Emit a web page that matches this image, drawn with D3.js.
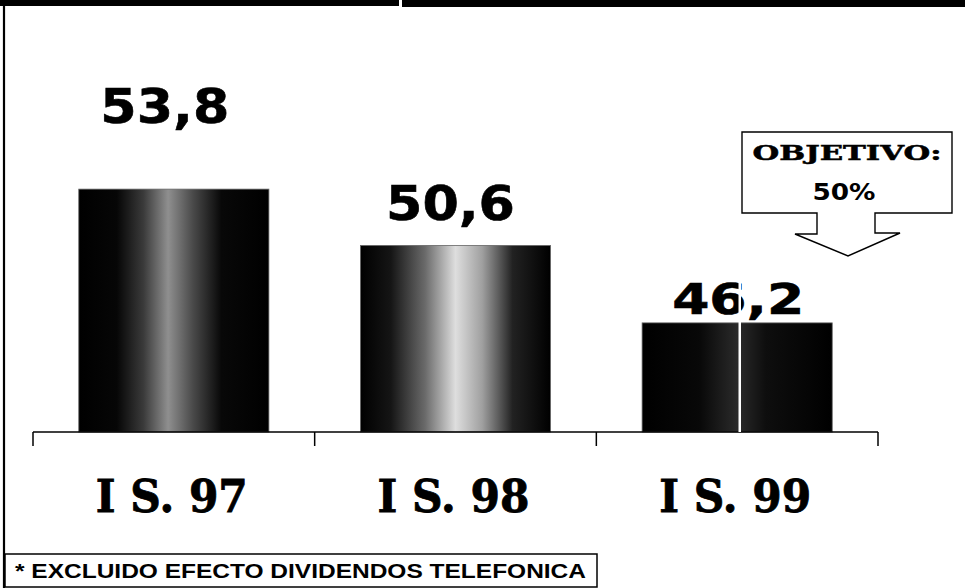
<!DOCTYPE html>
<html>
<head>
<meta charset="utf-8">
<script src="https://cdn.jsdelivr.net/npm/d3@7/dist/d3.min.js"></script>
<style>
  html, body { margin: 0; padding: 0; background: #fff; }
  svg { display: block; }
</style>
</head>
<body>
<svg id="chart" width="965" height="588"></svg>
<script>
// ---- data ----
const categories = ["I S. 97", "I S. 98", "I S. 99"];
const values = [53.8, 50.6, 46.2];
const valueLabels = ["53,8", "50,6", "46,2"];
const targetValue = 50;
const targetLines = ["OBJETIVO:", "50%"];
const footnote = "* EXCLUIDO EFECTO DIVIDENDOS TELEFONICA";

// ---- layout / style ----
const W = 965, H = 588;
const axisY = 432;
const labelGap = [66, 25, 9];        // vertical gap between label baseline and bar top
const labelShift = [-9, -5, 1];      // horizontal nudge of value labels
const gradStops = [
  [[0, "#000"], [0.2, "#060606"], [0.34, "#3a3a3a"], [0.47, "#8f8f8f"], [0.6, "#4a4a4a"], [0.75, "#080808"], [1, "#000"]],
  [[0, "#000"], [0.16, "#151515"], [0.34, "#6a6a6a"], [0.5, "#dedede"], [0.64, "#a0a0a0"], [0.8, "#222"], [1, "#000"]],
  [[0, "#000"], [0.3, "#080808"], [0.5, "#2a2a2a"], [0.65, "#0e0e0e"], [1, "#000"]]
];

const svg = d3.select("#chart");
const defs = svg.append("defs");

const x = d3.scaleBand().domain(categories).range([33, 878])
  .paddingInner(0.325).paddingOuter(0.1625);
const y = d3.scaleLinear().domain([40, 60]).range([axisY, 80]);

// gradients
categories.forEach((c, i) => {
  const g = defs.append("linearGradient").attr("id", "g" + i)
    .attr("x1", "0").attr("x2", "1").attr("y1", "0").attr("y2", "0");
  gradStops[i].forEach(s => g.append("stop").attr("offset", s[0]).attr("stop-color", s[1]));
});

// frame: top black band and left border
svg.append("path").attr("d", "M0,0H399V6H0Z").attr("fill", "#000");
svg.append("path").attr("d", `M402,0H${W}V7H402Z`).attr("fill", "#000");
svg.append("line").attr("x1", 4).attr("x2", 4).attr("y1", 5).attr("y2", H)
  .attr("stroke", "#000").attr("stroke-width", 2.2);

// bars
svg.selectAll("rect.bar").data(values).enter().append("rect")
  .attr("class", "bar")
  .attr("x", (d, i) => x(categories[i]))
  .attr("y", d => y(d))
  .attr("width", x.bandwidth())
  .attr("height", d => axisY - y(d))
  .attr("fill", (d, i) => `url(#g${i})`)
  .attr("stroke", "#666").attr("stroke-width", 0.8);

// x axis with boundary ticks
svg.append("line").attr("x1", 33).attr("x2", 878).attr("y1", axisY).attr("y2", axisY)
  .attr("stroke", "#000").attr("stroke-width", 1.5);
const bounds = [33].concat(categories.map(c => x(c) + x.bandwidth() + x.step() * x.paddingInner() / 2));
bounds[bounds.length - 1] = 878;
svg.selectAll("line.tk").data(bounds).enter().append("line").attr("class", "tk")
  .attr("x1", d => d).attr("x2", d => d).attr("y1", axisY).attr("y2", axisY + 14)
  .attr("stroke", "#000").attr("stroke-width", 1.5);

// category labels
svg.selectAll("text.cat").data(categories).enter().append("text")
  .attr("class", "cat")
  .attr("x", c => x(c) + x.bandwidth() / 2 - 2)
  .attr("y", 512)
  .attr("text-anchor", "middle")
  .attr("font-family", "'DejaVu Serif', serif")
  .attr("font-weight", "bold")
  .attr("font-size", 44)
  .attr("stroke", "#000").attr("stroke-width", 0.8)
  .attr("textLength", 152).attr("lengthAdjust", "spacingAndGlyphs")
  .text(c => c);

// value labels
svg.selectAll("text.val").data(values).enter().append("text")
  .attr("class", "val")
  .attr("x", (d, i) => x(categories[i]) + x.bandwidth() / 2 + labelShift[i])
  .attr("y", (d, i) => y(d) - labelGap[i])
  .attr("text-anchor", "middle")
  .attr("font-family", "'DejaVu Sans', Verdana, sans-serif")
  .attr("font-weight", "bold")
  .attr("font-size", (d, i) => i === 2 ? 42 : 48)
  .attr("stroke", "#000").attr("stroke-width", 0.6)
  .attr("textLength", (d, i) => i === 2 ? 132 : 129).attr("lengthAdjust", "spacingAndGlyphs")
  .text((d, i) => valueLabels[i]);

// white artifact line on third bar
svg.append("rect").attr("x", 738.5).attr("y", 282).attr("width", 2.5).attr("height", axisY - 282)
  .attr("fill", "#fff");

// target callout (arrow tip at target value)
const tipY = y(targetValue);
const cl = 742, cr = 952, ct = 132, cb = 213;
const path = d3.path();
path.moveTo(cl, ct); path.lineTo(cr, ct); path.lineTo(cr, cb);
path.lineTo(875, cb); path.lineTo(875, tipY - 23); path.lineTo(900, tipY - 23);
path.lineTo(848, tipY); path.lineTo(795, tipY - 22); path.lineTo(817, tipY - 22);
path.lineTo(817, cb); path.lineTo(cl, cb); path.closePath();
svg.append("path").attr("d", path.toString())
  .attr("fill", "#fff").attr("stroke", "#000").attr("stroke-width", 1.4);
svg.append("text").attr("x", 847).attr("y", 160).attr("text-anchor", "middle")
  .attr("font-family", "'DejaVu Serif', serif").attr("font-weight", "bold")
  .attr("font-size", 21).attr("stroke", "#000").attr("stroke-width", 0.5)
  .attr("textLength", 189).attr("lengthAdjust", "spacingAndGlyphs")
  .text(targetLines[0]);
svg.append("text").attr("x", 844).attr("y", 200).attr("text-anchor", "middle")
  .attr("font-family", "'DejaVu Sans', Verdana, sans-serif").attr("font-weight", "bold")
  .attr("font-size", 23).attr("textLength", 63).attr("lengthAdjust", "spacingAndGlyphs")
  .text(targetLines[1]);

// footnote box
svg.append("rect").attr("x", 5).attr("y", 554).attr("width", 592).attr("height", 33)
  .attr("fill", "#fff").attr("stroke", "#000").attr("stroke-width", 1.5);
svg.append("text").attr("x", 15).attr("y", 578)
  .attr("font-family", "'Liberation Sans', Arial, sans-serif").attr("font-weight", "bold")
  .attr("font-size", 20).attr("textLength", 571).attr("lengthAdjust", "spacingAndGlyphs")
  .text(footnote);
</script>
</body>
</html>
